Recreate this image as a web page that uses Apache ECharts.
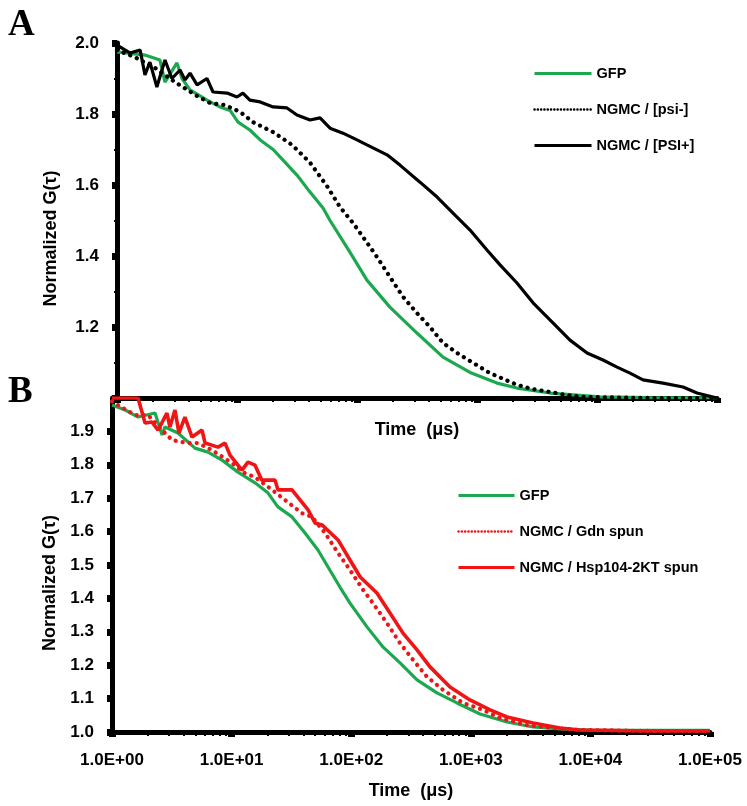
<!DOCTYPE html>
<html>
<head>
<meta charset="utf-8">
<script src="https://cdn.jsdelivr.net/npm/echarts@6/dist/echarts.min.js"></script>
<style>
html,body{margin:0;padding:0;background:#fff;}
#chart{width:747px;height:806px;}
</style>
</head>
<body>
<div id="chart"></div>
<script>
// ---------- DATA ----------
const xTickLabels = ['1.0E+00', '1.0E+01', '1.0E+02', '1.0E+03', '1.0E+04', '1.0E+05'];
const yTicksA = ['1.2', '1.4', '1.6', '1.8', '2.0'];
const yTicksB = ['1.0', '1.1', '1.2', '1.3', '1.4', '1.5', '1.6', '1.7', '1.8', '1.9'];

const namesA = ['GFP', 'NGMC / [psi-]', 'NGMC / [PSI+]'];
const namesB = ['GFP', 'NGMC / Gdn spun', 'NGMC / Hsp104-2KT spun'];

// Panel A
const gfpA_t = [1, 1.71, 2.28, 2.51, 3.16, 3.48, 4.06, 5.62, 7.21, 8.75, 10.2, 12.8, 15.6, 20, 24.2, 31.6, 40.6, 52.1, 59.6, 87.5, 121, 188, 316, 521, 875, 1469, 2153, 4055, 10593, 27542, 100000];
const gfpA_g = [1.975, 1.966, 1.952, 1.89, 1.944, 1.90, 1.868, 1.839, 1.82, 1.81, 1.777, 1.755, 1.727, 1.70, 1.67, 1.628, 1.58, 1.535, 1.50, 1.41, 1.332, 1.256, 1.183, 1.115, 1.072, 1.042, 1.028, 1.014, 1.003, 1.001, 1.0];

const psiMinus_t = [1, 1.41, 2.07, 3.04, 4.47, 5.96, 7.94, 10.6, 13.6, 20, 28.7, 40.6, 56.2, 72.1, 92.7, 112, 147, 188, 242, 316, 406, 521, 681, 927, 1282, 1556, 2153, 2931, 4055, 5623, 7638, 27542, 100000];
const psiMinus_g = [1.98, 1.96, 1.93, 1.89, 1.854, 1.831, 1.825, 1.806, 1.777, 1.749, 1.713, 1.663, 1.597, 1.538, 1.493, 1.454, 1.397, 1.341, 1.285, 1.239, 1.20, 1.155, 1.127, 1.099, 1.07, 1.058, 1.037, 1.025, 1.017, 1.008, 1.003, 1.0, 1.0];

const psiPlus_t = [1, 1.28, 1.56, 1.71, 1.88, 2.15, 2.51, 2.87, 3.35, 3.69, 4.06, 4.65, 5.62, 6.31, 8.26, 10, 11.2, 12.8, 15.6, 20, 26.1, 31.6, 40.6, 49.2, 59.6, 76.4, 100, 121, 178, 228, 335, 465, 631, 875, 1211, 1556, 2153, 2931, 4055, 5957, 8260, 11220, 14690, 18836, 24155, 35481, 52119, 68077, 100000];
const psiPlus_g = [1.994, 1.972, 1.98, 1.91, 1.946, 1.876, 1.952, 1.90, 1.924, 1.896, 1.915, 1.882, 1.90, 1.862, 1.859, 1.848, 1.859, 1.839, 1.834, 1.82, 1.817, 1.797, 1.783, 1.789, 1.76, 1.746, 1.727, 1.713, 1.685, 1.656, 1.608, 1.566, 1.521, 1.473, 1.417, 1.375, 1.324, 1.268, 1.22, 1.163, 1.127, 1.107, 1.087, 1.07, 1.051, 1.042, 1.031, 1.014, 1.0];

// Panel B
const gfpB_t = [1, 1.29, 1.65, 2.29, 2.62, 2.77, 3.56, 4.94, 6.35, 8.32, 11.3, 15.7, 20.1, 24.4, 32.0, 41.1, 52.7, 64.0, 80.5, 97.7, 136, 185, 256, 355, 521, 767, 1194, 2009, 3311, 5572, 9931, 31477, 100000];
const gfpB_g = [1.979, 1.964, 1.943, 1.955, 1.889, 1.913, 1.895, 1.85, 1.838, 1.814, 1.778, 1.746, 1.716, 1.674, 1.644, 1.596, 1.545, 1.494, 1.434, 1.386, 1.314, 1.254, 1.207, 1.156, 1.117, 1.087, 1.054, 1.03, 1.015, 1.009, 1.006, 1.005, 1.005];

const gdn_t = [1, 1.12, 1.56, 2.0, 2.52, 3.18, 4.32, 5.24, 6.85, 10.1, 12.9, 15.7, 21.8, 27.9, 38.8, 47.0, 60.4, 77.6, 97.7, 126, 152, 199, 256, 329, 431, 586, 861, 1265, 1754, 2951, 4864, 8185, 31477, 100000];
const gdn_g = [1.99, 1.979, 1.949, 1.949, 1.91, 1.874, 1.865, 1.865, 1.844, 1.805, 1.775, 1.763, 1.725, 1.695, 1.655, 1.644, 1.596, 1.536, 1.485, 1.425, 1.386, 1.326, 1.266, 1.216, 1.165, 1.126, 1.087, 1.066, 1.042, 1.021, 1.012, 1.006, 1.003, 1.003];

const hsp_t = [1, 1.65, 1.89, 2.16, 2.43, 2.88, 3.05, 3.36, 3.63, 4.07, 4.67, 5.66, 6.0, 7.69, 8.81, 9.70, 12.2, 13.7, 15.7, 17.9, 23.1, 24.4, 32.0, 43.6, 49.8, 57.0, 77.6, 97.7, 119, 164, 211, 271, 355, 456, 670, 984, 1449, 2009, 3311, 5572, 8185, 31477, 100000];
const hsp_g = [2.0, 2.0, 1.925, 1.928, 1.904, 1.955, 1.913, 1.964, 1.895, 1.943, 1.883, 1.904, 1.865, 1.853, 1.865, 1.829, 1.784, 1.808, 1.799, 1.754, 1.754, 1.725, 1.725, 1.665, 1.626, 1.62, 1.575, 1.515, 1.464, 1.416, 1.356, 1.296, 1.246, 1.195, 1.135, 1.096, 1.066, 1.045, 1.027, 1.012, 1.006, 1.003, 1.003];

// ---------- CHART ----------
const zip = (t, g) => t.map((v, i) => [v, g[i]]);
const FONT = "'Liberation Sans', Arial, sans-serif";
const GREEN = '#1ba84f';
const RED = '#f01414';
const BLACK = '#000';

function xAxisCfg(grid, showLabels, nameGap) {
  return {
    gridIndex: grid, type: 'log', logBase: 10, min: 1, max: 100000,
    name: 'Time  (\u03bcs)', nameLocation: 'middle', nameGap: nameGap,
    nameTextStyle: {fontFamily: FONT, fontWeight: 'bold', fontSize: 18, color: BLACK},
    axisLine: {show: true, onZero: false, lineStyle: {color: BLACK, width: 5}},
    axisTick: {show: true, length: 5, lineStyle: {color: BLACK, width: 7}},
    minorTick: {show: true, splitNumber: 9, length: 4, lineStyle: {color: BLACK, width: 2}},
    splitLine: {show: false}, minorSplitLine: {show: false},
    axisLabel: {
      show: showLabels, margin: 20, fontFamily: FONT, fontWeight: 'bold', fontSize: 17, color: BLACK,
      formatter: v => xTickLabels[Math.round(Math.log10(v))]
    }
  };
}
function yAxisCfg(grid, interval, labels, nameGap, hideMin, hideMax) {
  return {
    gridIndex: grid, type: 'value', min: 1, max: 2, interval: interval,
    name: 'Normalized G(\u03c4)', nameLocation: 'middle', nameGap: nameGap,
    nameTextStyle: {fontFamily: FONT, fontWeight: 'bold', fontSize: 18, color: BLACK, padding: [0, 36, 0, 0]},
    axisLine: {show: true, onZero: false, lineStyle: {color: BLACK, width: 5}},
    axisTick: {show: true, length: 5, lineStyle: {color: BLACK, width: 7}},
    minorTick: {show: interval > 0.15, splitNumber: 2, length: 3, lineStyle: {color: BLACK, width: 2}},
    splitLine: {show: false},
    axisLabel: {
      margin: 18, fontFamily: FONT, fontWeight: 'bold', fontSize: 17, color: BLACK,
      showMinLabel: !hideMin, showMaxLabel: !hideMax,
      formatter: v => { const s = v.toFixed(1); return labels.indexOf(s) >= 0 ? s : ''; }
    }
  };
}
function lineSeries(name, xi, t, g, color, width, dotted, z) {
  return {
    name: name, type: 'line', xAxisIndex: xi, yAxisIndex: xi,
    data: zip(t, g), showSymbol: false, symbol: 'none', smooth: false, z: z,
    lineStyle: dotted
      ? {color: color, width: 4.2, type: [0.1, 7], cap: 'round'}
      : {color: color, width: width},
    itemStyle: {color: color},
    emphasis: {disabled: true}
  };
}
const legendText = {fontFamily: FONT, fontWeight: 'bold', fontSize: 14.5, color: BLACK};
function legendLineStyle(dotted, color) {
  return dotted
    ? {color: color, width: 2.5, type: [0.1, 3.2], cap: 'round'}
    : {color: color, width: 3};
}
function legendData(names, colors, dots) {
  return names.map((n, i) => ({
    name: n,
    itemStyle: {opacity: 0},
    lineStyle: legendLineStyle(dots[i], colors[i])
  }));
}

const chart = echarts.init(document.getElementById('chart'), null, {renderer: 'canvas'});
chart.setOption({
  animation: false,
  backgroundColor: '#fff',
  title: [
    {text: 'A', left: 3, top: 2, textStyle: {fontFamily: "'Liberation Serif', 'Times New Roman', serif", fontWeight: 'bold', fontSize: 37, color: BLACK}},
    {text: 'B', left: 3, top: 369, textStyle: {fontFamily: "'Liberation Serif', 'Times New Roman', serif", fontWeight: 'bold', fontSize: 37, color: BLACK}}
  ],
  grid: [
    {left: 117, top: 43, width: 600, height: 355},
    {left: 112, top: 398, width: 598, height: 334}
  ],
  legend: [
    {data: legendData(namesA, [GREEN, BLACK, BLACK], [false, true, false]),
     orient: 'vertical', left: 533, top: 66, padding: 0, itemWidth: 57, itemHeight: 14, itemGap: 21,
     itemStyle: {opacity: 0}, textStyle: legendText, selectedMode: false},
    {data: legendData(namesB, [GREEN, RED, RED], [false, true, false]),
     orient: 'vertical', left: 457, top: 488, padding: 0, itemWidth: 56, itemHeight: 14, itemGap: 21,
     itemStyle: {opacity: 0}, textStyle: legendText, selectedMode: false}
  ],
  xAxis: [xAxisCfg(0, false, 23), xAxisCfg(1, true, 50)],
  yAxis: [yAxisCfg(0, 0.2, yTicksA, 57, true, false), yAxisCfg(1, 0.1, yTicksB, 52, false, true)],
  series: [
    lineSeries(namesA[0], 0, gfpA_t, gfpA_g, GREEN, 3.2, false, 2),
    lineSeries(namesA[1], 0, psiMinus_t, psiMinus_g, BLACK, 3, true, 3),
    lineSeries(namesA[2], 0, psiPlus_t, psiPlus_g, BLACK, 3.2, false, 4),
    lineSeries(namesB[0], 1, gfpB_t, gfpB_g, GREEN, 3.2, false, 2),
    lineSeries(namesB[1], 1, gdn_t, gdn_g, RED, 3, true, 3),
    lineSeries(namesB[2], 1, hsp_t, hsp_g, RED, 3.6, false, 4)
  ]
});
</script>
</body>
</html>
